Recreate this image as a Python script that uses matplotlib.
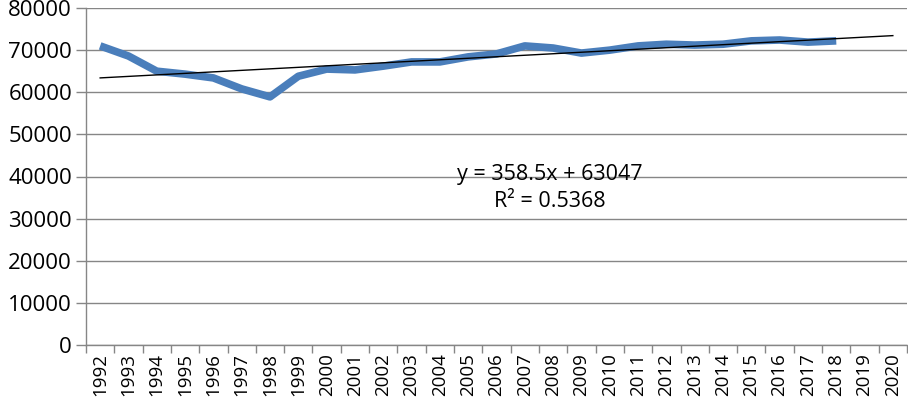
import numpy as np
import matplotlib
matplotlib.use("Agg")
import matplotlib.pyplot as plt
from matplotlib.ticker import FixedLocator

plt.rcParams["font.family"] = ["Open Sans", "DejaVu Sans"]

years = [str(y) for y in range(1992, 2021)]
values = [71000, 68600, 65000, 64300, 63400, 60800, 58900, 63800, 65500, 65300,
          66200, 67200, 67200, 68400, 69100, 71000, 70500, 69300, 70000, 71000,
          71400, 71200, 71400, 72200, 72400, 71900, 72200]
trend_slope = 358.5
trend_intercept = 63047
trend_label = "y = 358.5x + 63047\nR² = 0.5368"

grid_col = "#868686"

fig = plt.figure(figsize=(9.08, 4.0), dpi=100)
ax = fig.add_axes([86 / 908, 1 - 345 / 400, 821 / 908, 337 / 400])

x = np.arange(len(values))
ax.plot(x, values, color="#4A7EBB", linewidth=5.5, solid_joinstyle="round",
        solid_capstyle="butt", zorder=3)

xt = np.arange(len(years))
ax.plot(xt, trend_slope * (xt + 1) + trend_intercept, color="black", linewidth=1.0, zorder=4)

# equation label sits in the middle of the plot like Excel places it
ax.text(15.9, 37300, trend_label, ha="center", va="center", fontsize=15.5,
        linespacing=1.35)

ax.set_xlim(-0.5, len(years) - 0.5)
ax.set_ylim(0, 80000)
ax.set_yticks(range(0, 80001, 10000))
ax.set_xticks(xt)
ax.set_xticklabels(years, rotation=90, fontsize=13.5)
ax.xaxis.set_minor_locator(FixedLocator(np.arange(-0.5, len(years), 1)))
ax.tick_params(axis="x", which="major", length=0, pad=6)
ax.tick_params(axis="x", which="minor", length=6, color=grid_col, width=1)
ax.tick_params(axis="y", length=7, color=grid_col, width=1, labelsize=16, pad=3)

ax.grid(axis="y", color=grid_col, linewidth=1)
ax.set_axisbelow(True)
for s in ["top", "right"]:
    ax.spines[s].set_visible(False)
for s in ["left", "bottom"]:
    ax.spines[s].set_color(grid_col)
    ax.spines[s].set_linewidth(1)

fig.savefig("out.png", dpi=100)
